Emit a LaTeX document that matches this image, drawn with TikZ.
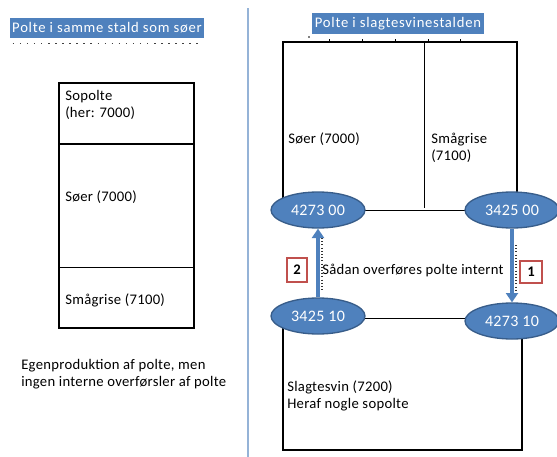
\documentclass[tikz,border=0pt]{standalone}
\usepackage{fontspec}
\setmainfont{Carlito}[LetterSpace=2]
\newfontfamily\titlefont{Carlito}[LetterSpace=5]
\usetikzlibrary{shapes.geometric,arrows.meta,backgrounds}
\definecolor{obl}{HTML}{4F81BD}
\definecolor{obd}{HTML}{385D8A}
\definecolor{divc}{HTML}{95B3D7}
\definecolor{redb}{HTML}{C0504D}
\begin{document}
\begin{tikzpicture}[x=0.75pt,y=-0.75pt,font=\fontsize{11}{13}\selectfont,
  titlebox/.style={fill=obl,text=white,inner sep=0pt,font=\titlefont\fontsize{11}{13}\selectfont},
  ell/.style={ellipse,fill=obl,draw=obd,line width=1pt,text=white,minimum width=70.5pt,minimum height=27pt,inner sep=0pt,font=\fontsize{12}{14}\selectfont},
  lbl/.style={anchor=west,inner sep=0pt,align=left},
  numbox/.style={draw=redb,line width=1.3pt,fill=white,inner sep=0pt,font=\fontsize{11}{13}\selectfont\bfseries},
  frame/.style={line width=1.2pt},
  thinline/.style={line width=0.75pt},
  arr/.style={draw=obl,line width=2.3pt,-{Triangle[width=9pt,length=7pt]}},
  noise/.style={line width=0.8pt,dash pattern=on 0.8pt off 1.6pt,black!80}]
\useasboundingbox (0,0) rectangle (557,457);
% titles
\node[titlebox,minimum width=145.5pt,minimum height=15pt] (t1) at (107,28) {Polte i samme stald som søer};
\node[titlebox,minimum width=129pt,minimum height=15.75pt] (t2) at (398,23.5) {Polte i slagtesvinestalden};
\draw[line width=1.1pt,dash pattern=on 1.1pt off 4.2pt,black!75] (t1.south west)++(3,5) coordinate (d1) -- ++(190,0) coordinate (d2);
\foreach \xx in {329,362,395,428,460} \draw[line width=0.7pt] (\xx,39) -- (\xx,42);
\fill (309,37) circle (0.8);
% divider
\draw[divc,line width=1.1pt] (248,8) -- (248,457);
% left stable
\draw[frame] (59,83) rectangle (194,328);
\draw[frame] (59,144) -- (194,144);
\draw[thinline] (59,267) -- (194,267);
\node[lbl] (sopolte) at (65,105) {Sopolte\\(her: 7000)};
\node[lbl] (soer1) at (65,197) {Søer (7000)};
\node[lbl] (smaa1) at (65,300) {Smågrise (7100)};
\node[lbl] (egen) at (21,374) {Egenproduktion af polte, men\\ingen interne overførsler af polte};
% right stable
\node[ell] (e1) at (318,210) {4273 00};
\node[ell] (e2) at (512,210) {3425 00};
\node[ell] (e3) at (318,316) {3425 10};
\node[ell] (e4) at (512,321) {4273 10};
\begin{scope}[on background layer]
\draw[frame] (283,0 |- e1.center) -- (283,42) -- (517,42) -- (517,0 |- e2.center);
\draw[thinline] (424,42) -- (424,208);
\draw[thinline] (e1.center) -- (e2.center);
\draw[thinline] (e3.center |- 0,318) -- (e4.center |- 0,318);
\draw[frame] (283,0 |- e3.center) -- (283,450) -- (522,450) -- (522,0 |- e4.center);
\end{scope}
\node[lbl] (soer2) at (288,139) {Søer (7000)};
\node[lbl] (smaa2) at (431,148) {Smågrise\\(7100)};
\node[lbl] (slagt) at (287,396) {Slagtesvin (7200)\\Heraf nogle sopolte};
\draw[noise] (322,238) -- (322,292);
\draw[noise] (516,245) -- (516,290);
\draw[arr] (e3.north) -- (e1.south);
\draw[arr] (e2.south) -- (e4.north);
\node[numbox,minimum width=15pt,minimum height=18pt] (n2) at (297,270) {2};
\node[numbox,minimum width=16pt,minimum height=16pt] (n1) at (531,272) {1};
\node[lbl] (saadan) at (322,270) {Sådan overføres polte internt};
\end{tikzpicture}
\end{document}
